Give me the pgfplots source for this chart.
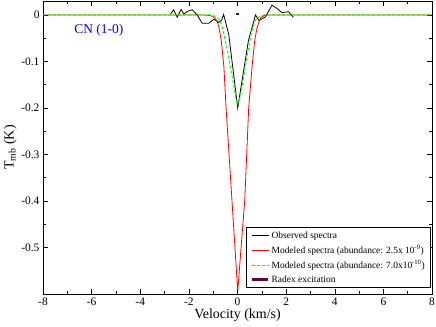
\documentclass[border=0pt]{standalone}
\usepackage{fontspec}
\setmainfont{Liberation Serif}
\usepackage{pgfplots}
\pgfplotsset{compat=1.18}
\definecolor{radex}{RGB}{100,0,80}
\begin{document}
\begin{tikzpicture}
\begin{axis}[
    scale only axis,
    width=389bp, height=293bp,
    xmin=-8, xmax=8, ymin=-0.6, ymax=0.03,
    xtick={-8,-6,...,8},
    ytick={-0.5,-0.4,-0.3,-0.2,-0.1,0},
    yticklabels={-0.5,-0.4,-0.3,-0.2,-0.1,0},
    minor x tick num=1, minor y tick num=1,
    tick align=inside,
    major tick length=5bp, minor tick length=3bp,
    tick style={black, line width=0.5pt},
    axis line style={line width=0.8pt},
    /pgf/number format/assume math mode=true,
    ticklabel style={font=\fontsize{11.5}{12}\selectfont},
    xlabel={Velocity (km/s)},
    ylabel={T\textsubscript{mb} (K)},
    label style={font=\fontsize{14}{15}\selectfont},
    xlabel style={yshift=3bp},
    ylabel style={yshift=-2bp},
    legend cell align=left,
    legend style={at={(1,0)}, anchor=south east, xshift=-1bp, yshift=6bp,
        draw=black, line width=0.6pt, font=\fontsize{9.5}{11}\selectfont,
        row sep=1.5bp, inner xsep=4bp, inner ysep=2bp},
]
\addplot[black, line width=0.8pt] coordinates {
    (-2.75,0.002) (-2.63,0.011) (-2.48,-0.005) (-2.32,0.012) (-2.21,0.002)
    (-2.05,0.008) (-1.86,0.011) (-1.66,0.000) (-1.45,-0.018) (-1.18,-0.018)
    (-0.97,-0.009) (-0.78,-0.016) (-0.65,-0.011) (-0.57,0.001) (-0.36,-0.042)
    (0.01,-0.200) (0.22,-0.130) (0.45,-0.055) (0.74,0.000) (0.88,-0.012)
    (1.15,-0.004) (1.42,0.021) (1.62,0.014) (1.83,0.005) (2.10,0.007)
    (2.30,-0.005)
};
\addlegendentry{Observed spectra}
\addplot[red, line width=0.8pt] coordinates {
    (-8,0) (-1.3,0) (-1.0,-0.003) (-0.85,-0.012) (-0.77,-0.025)
    (-0.67,-0.054) (-0.56,-0.111) (-0.47,-0.200) (0.01,-0.594)
    (0.30,-0.397) (0.46,-0.200) (0.60,-0.111) (0.71,-0.054)
    (0.81,-0.026) (0.95,-0.006) (1.1,-0.001) (1.3,0) (8,0)
};
\addlegendentry{Modeled spectra (abundance: 2.5x 10\textsuperscript{-9})}
\addplot[green, line width=0.9pt, dash pattern=on 3bp off 2bp] coordinates {
    (-8,0) (-1.1,0) (-0.9,-0.003) (-0.75,-0.010) (-0.63,-0.025)
    (-0.42,-0.075) (-0.22,-0.132) (-0.08,-0.175) (0,-0.193)
    (0.12,-0.175) (0.26,-0.132) (0.44,-0.075) (0.60,-0.032)
    (0.74,-0.011) (0.90,-0.003) (1.1,0) (8,0)
};
\addlegendentry{Modeled spectra (abundance: 7.0x10\textsuperscript{-10})}
\addplot[radex, line width=2bp,
    legend image code/.code={\draw[radex, line width=3.5bp] (0bp,0bp) -- (16bp,0bp);}]
    coordinates {(-0.07,0.0015) (0.07,0.0015)};
\addlegendentry{Radex excitation}
\node[blue, font=\fontsize{13.5}{14}\selectfont] at (axis cs:-5.7,-0.034) {CN (1-0)};
\end{axis}
\pgfresetboundingbox
\path (current axis.south west) ++(-43bp,-33bp) rectangle ([shift={(4bp,1bp)}]current axis.north east);
\end{tikzpicture}
\end{document}
